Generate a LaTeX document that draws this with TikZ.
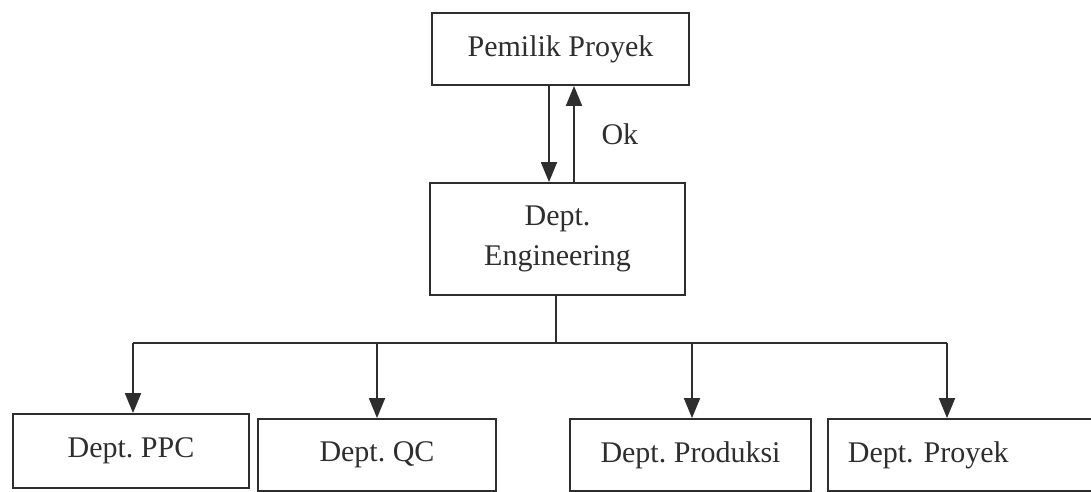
\documentclass[tikz,border=0pt]{standalone}
\usepackage{fontspec}
\setmainfont{Liberation Serif}
\usetikzlibrary{arrows.meta}
\definecolor{ink}{HTML}{2E2E2E}
\frenchspacing
\tikzset{
  box/.style={draw=ink, line width=1.8pt, inner sep=0pt, text=ink,
    font=\fontsize{30}{40}\selectfont, align=center},
  link/.style={draw=ink, line width=1.8pt},
  arr/.style={link, -{Triangle[length=20pt,width=16pt]}}
}
\begin{document}
\begin{tikzpicture}[x=1pt, y=-1pt]
  \useasboundingbox (0,0) rectangle (1091,491);
  % top: project owner
  \node[box, minimum width=257pt, minimum height=72pt] (owner) at (560.5,49) {Pemilik Proyek};
  % engineering department
  \node[box, minimum width=255pt, minimum height=112pt] (eng) at (557.5,239) {Dept.\\Engineering};
  % request down, approval up
  \draw[arr] (owner.south -| 549,0) -- (eng.north -| 549,0);
  \draw[arr] (eng.north -| 574,0) -- (owner.south -| 574,0);
  \node[text=ink, font=\fontsize{30}{36}\selectfont, anchor=west] (ok) at (598,134) {Ok};
  % departments
  \node[box, minimum width=236pt, minimum height=74pt] (ppc) at (131,451) {Dept. PPC};
  \node[box, minimum width=238pt, minimum height=72pt] (qc) at (377,455) {Dept. QC};
  \node[box, minimum width=241pt, minimum height=72pt] (prod) at (690.5,455) {Dept. Produksi};
  \node[box, anchor=west, minimum height=72pt, text width=225pt, align=left, inner xsep=20pt] (proy) at (827,455) {Dept. Proyek};
  % distribution bar
  \coordinate (bar) at (556,343);
  \draw[link] (eng.south -| bar) -- (bar);
  \draw[link] (133,343) -- (947,343);
  \draw[arr] (bar -| 133,0) -- (ppc.north -| 133,0);
  \draw[arr] (bar -| 377,0) -- (qc.north -| 377,0);
  \draw[arr] (bar -| 692,0) -- (prod.north -| 692,0);
  \draw[arr] (bar -| 947,0) -- (proy.north -| 947,0);
\end{tikzpicture}
\end{document}
